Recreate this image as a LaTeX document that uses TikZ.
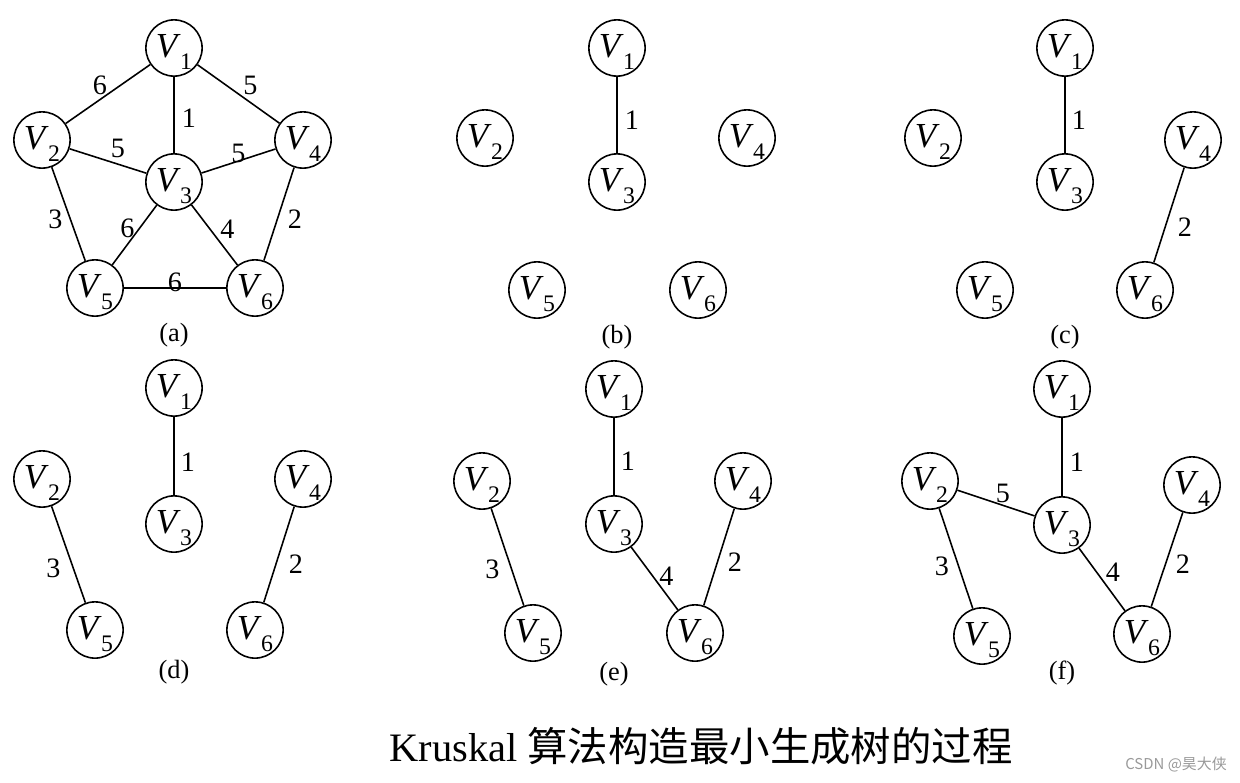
\documentclass[tikz,border=0pt]{standalone}
\usepackage{fontspec}
\setmainfont{Liberation Serif}
\newfontfamily\cjk{Noto Sans CJK SC}
\newcommand{\vsub}[1]{\rule{0pt}{17.5pt}\textit{V}\kern-0.3pt\raisebox{-7pt}{\fontsize{13.5}{13.5}\selectfont #1}}
\begin{document}
\begin{tikzpicture}[x=0.02cm,y=-0.02cm,
  vnode/.style={circle,draw,line width=0.9pt,minimum size=31pt,inner sep=0pt,font=\fontsize{20}{20}\selectfont},
  edge/.style={line width=0.9pt},
  lbl/.style={font=\fontsize{16}{16}\selectfont,inner sep=0pt},
  captxt/.style={font=\fontsize{15}{15}\selectfont,inner sep=0pt}]
\useasboundingbox (0,0) rectangle (1240,782);

% ---------- (a) ----------
\node[vnode] (a1) at (174,48)  {\vsub{1}};
\node[vnode] (a2) at (42,140)  {\vsub{2}};
\node[vnode] (a3) at (174,182) {\vsub{3}};
\node[vnode] (a4) at (303,140) {\vsub{4}};
\node[vnode] (a5) at (95,288)  {\vsub{5}};
\node[vnode] (a6) at (255,288) {\vsub{6}};
\draw[edge] (a1) -- (a2) node[lbl,midway,shift={(-8,-9)}] {6};
\draw[edge] (a1) -- (a4) node[lbl,midway,shift={(12,-9)}] {5};
\draw[edge] (a1) -- (a3) node[lbl,midway,shift={(15,3)}] {1};
\draw[edge] (a2) -- (a3) node[lbl,midway,shift={(10,-13)}] {5};
\draw[edge] (a3) -- (a4) node[lbl,midway,shift={(0,-8)}] {5};
\draw[edge] (a2) -- (a5) node[lbl,midway,shift={(-13,5)}] {3};
\draw[edge] (a3) -- (a5) node[lbl,midway,shift={(-7,-7)}] {6};
\draw[edge] (a3) -- (a6) node[lbl,midway,shift={(13,-6)}] {4};
\draw[edge] (a4) -- (a6) node[lbl,midway,shift={(16,5)}] {2};
\draw[edge] (a5) -- (a6) node[lbl,midway,shift={(0,-6)}] {6};
\node[captxt] (ca) at (174,335) {(a)};

% ---------- (b) ----------
\node[vnode] (b1) at (617,48)  {\vsub{1}};
\node[vnode] (b2) at (485,138) {\vsub{2}};
\node[vnode] (b3) at (617,182) {\vsub{3}};
\node[vnode] (b4) at (747,138) {\vsub{4}};
\node[vnode] (b5) at (537,290) {\vsub{5}};
\node[vnode] (b6) at (698,290) {\vsub{6}};
\draw[edge] (b1) -- (b3) node[lbl,midway,shift={(15,5)}] {1};
\node[captxt] (cb) at (617,337) {(b)};

% ---------- (c) ----------
\node[vnode] (c1) at (1065,48)  {\vsub{1}};
\node[vnode] (c2) at (933,138)  {\vsub{2}};
\node[vnode] (c3) at (1065,182) {\vsub{3}};
\node[vnode] (c4) at (1193,140) {\vsub{4}};
\node[vnode] (c5) at (985,290)  {\vsub{5}};
\node[vnode] (c6) at (1145,290) {\vsub{6}};
\draw[edge] (c1) -- (c3) node[lbl,midway,shift={(14,5)}] {1};
\draw[edge] (c4) -- (c6) node[lbl,midway,shift={(16,12)}] {2};
\node[captxt] (cc) at (1065,337) {(c)};

% ---------- (d) ----------
\node[vnode] (d1) at (174,388) {\vsub{1}};
\node[vnode] (d2) at (42,479)  {\vsub{2}};
\node[vnode] (d3) at (174,524) {\vsub{3}};
\node[vnode] (d4) at (303,479) {\vsub{4}};
\node[vnode] (d5) at (95,630)  {\vsub{5}};
\node[vnode] (d6) at (255,630) {\vsub{6}};
\draw[edge] (d1) -- (d3) node[lbl,midway,shift={(14,6)}] {1};
\draw[edge] (d2) -- (d5) node[lbl,midway,shift={(-15,14)}] {3};
\draw[edge] (d4) -- (d6) node[lbl,midway,shift={(17,10)}] {2};
\node[captxt] (cd) at (174,672) {(d)};

% ---------- (e) ----------
\node[vnode] (e1) at (614,389) {\vsub{1}};
\node[vnode] (e2) at (482,481) {\vsub{2}};
\node[vnode] (e3) at (614,524) {\vsub{3}};
\node[vnode] (e4) at (743,481) {\vsub{4}};
\node[vnode] (e5) at (533,633) {\vsub{5}};
\node[vnode] (e6) at (695,633) {\vsub{6}};
\draw[edge] (e1) -- (e3) node[lbl,midway,shift={(14,5)}] {1};
\draw[edge] (e2) -- (e5) node[lbl,midway,shift={(-15,12)}] {3};
\draw[edge] (e3) -- (e6) node[lbl,midway,shift={(12,-2)}] {4};
\draw[edge] (e4) -- (e6) node[lbl,midway,shift={(16,5)}] {2};
\node[captxt] (ce) at (614,674) {(e)};

% ---------- (f) ----------
\node[vnode] (f1) at (1062,389) {\vsub{1}};
\node[vnode] (f2) at (930,481)  {\vsub{2}};
\node[vnode] (f3) at (1062,525) {\vsub{3}};
\node[vnode] (f4) at (1192,485) {\vsub{4}};
\node[vnode] (f5) at (982,636)  {\vsub{5}};
\node[vnode] (f6) at (1142,634) {\vsub{6}};
\draw[edge] (f1) -- (f3) node[lbl,midway,shift={(15,5)}] {1};
\draw[edge] (f2) -- (f3) node[lbl,midway,shift={(7,-10)}] {5};
\draw[edge] (f2) -- (f5) node[lbl,midway,shift={(-14,8)}] {3};
\draw[edge] (f3) -- (f6) node[lbl,midway,shift={(11,-7)}] {4};
\draw[edge] (f4) -- (f6) node[lbl,midway,shift={(16,5)}] {2};
\node[captxt] (cf) at (1062,673) {(f)};

% ---------- title and watermark ----------
\node[font=\fontsize{23}{23}\selectfont,inner sep=0pt] (title) at (701,746) {Kruskal {\cjk 算法构造最小生成树的过程}};
\node[font=\cjk\fontsize{8.5}{8.5}\selectfont,text=black!40,inner sep=0pt] (wm) at (1176,765) {CSDN @昊大侠};
\end{tikzpicture}
\end{document}
